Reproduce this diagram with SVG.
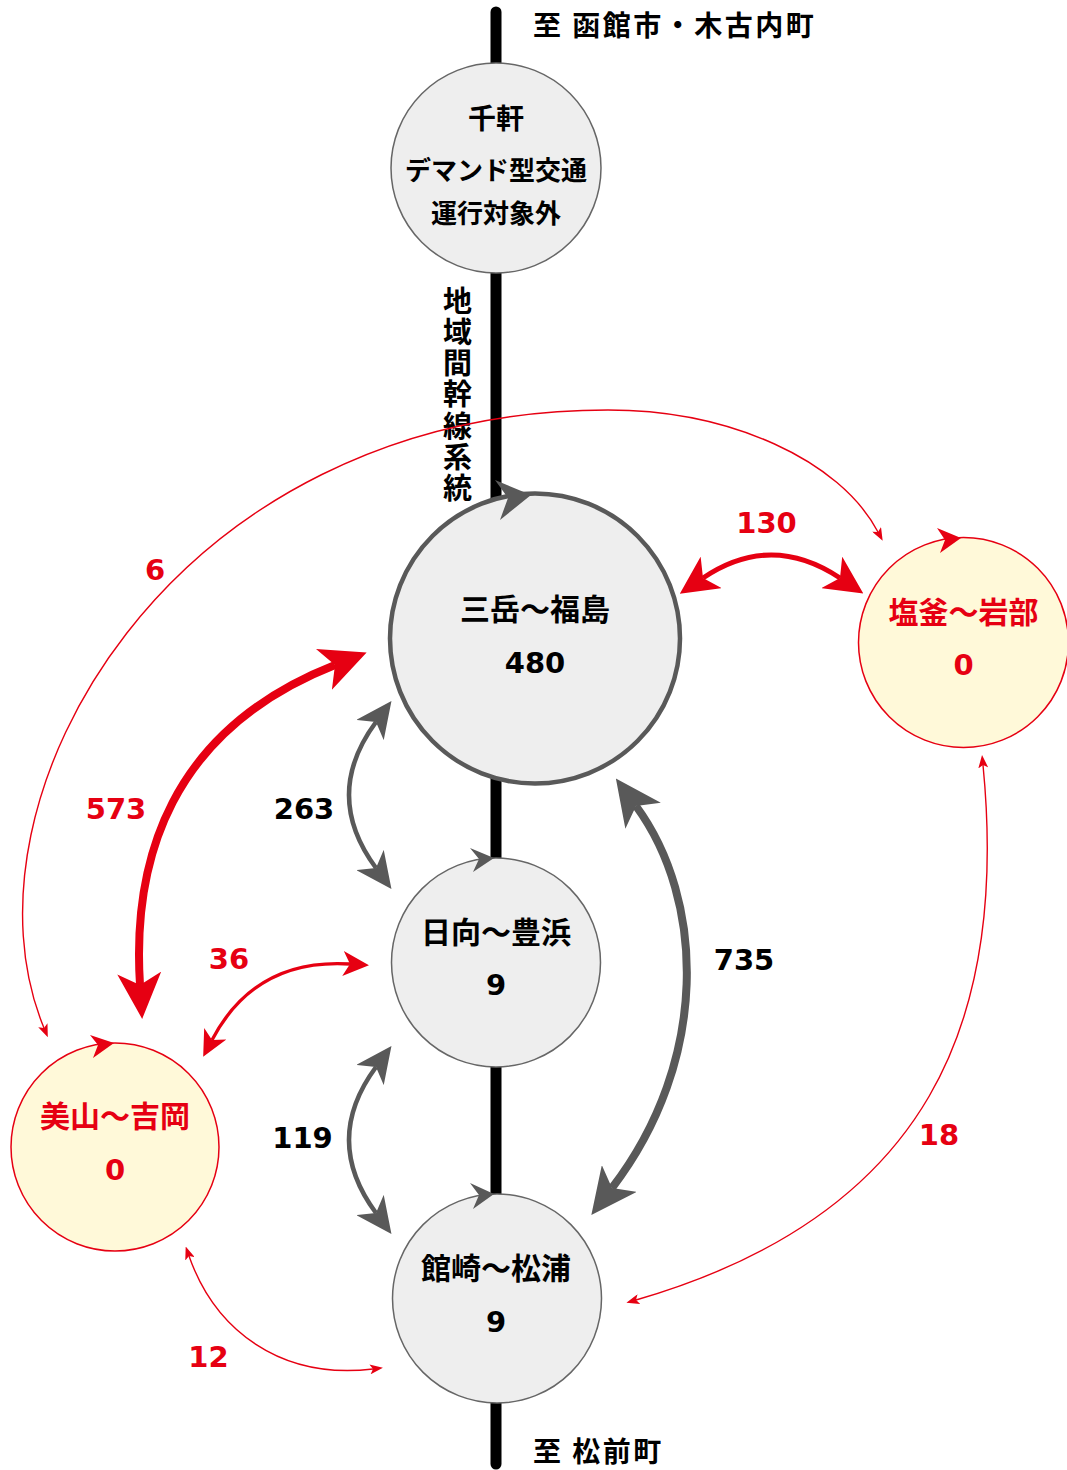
<svg xmlns="http://www.w3.org/2000/svg" width="1067" height="1470" viewBox="0 0 1067 1470">
<style>
.jp{font-family:"Noto Sans CJK JP","Noto Sans CJK SC",sans-serif;font-weight:bold;text-anchor:middle}
.num{font-family:"DejaVu Sans","Noto Sans CJK JP",sans-serif;font-weight:bold;text-anchor:middle;font-size:29px}
.blk{fill:#000}
.red{fill:#e60012}
.gnode{fill:#eeeeee;stroke:#666666;stroke-width:1.5}
.ynode{fill:#fff9d9;stroke:#e60012;stroke-width:1.5}
.rc{fill:none;stroke:#e60012}
.gc{fill:none;stroke:#595959}
.ga{fill:#595959}
.ra{fill:#e60012}
</style>
<defs>
<marker id="rXL" markerUnits="userSpaceOnUse" viewBox="0 0 46 44" markerWidth="46" markerHeight="44" refX="12" refY="22" orient="auto-start-reverse"><path d="M0,0 L46,22 L0,44 L12,22 z" fill="#e60012"/></marker>
<marker id="rL" markerUnits="userSpaceOnUse" viewBox="0 0 38 38" markerWidth="38" markerHeight="38" refX="10" refY="19" orient="auto-start-reverse"><path d="M0,0 L38,19 L0,38 L10,19 z" fill="#e60012"/></marker>
<marker id="rM" markerUnits="userSpaceOnUse" viewBox="0 0 26 25" markerWidth="26" markerHeight="25" refX="7" refY="12.5" orient="auto-start-reverse"><path d="M0,0 L26,12.5 L0,25 L7,12.5 z" fill="#e60012"/></marker>
<marker id="rS" markerUnits="userSpaceOnUse" viewBox="0 0 13 10" markerWidth="13" markerHeight="10" refX="3" refY="5" orient="auto-start-reverse"><path d="M0,0 L13,5 L0,10 L3,5 z" fill="#e60012"/></marker>
<marker id="gXL" markerUnits="userSpaceOnUse" viewBox="0 0 46 44" markerWidth="46" markerHeight="44" refX="12" refY="22" orient="auto-start-reverse"><path d="M0,0 L46,22 L0,44 L12,22 z" fill="#595959"/></marker>
<marker id="gM" markerUnits="userSpaceOnUse" viewBox="0 0 36 34" markerWidth="36" markerHeight="34" refX="10" refY="17" orient="auto-start-reverse"><path d="M0,0 L36,17 L0,34 L10,17 z" fill="#595959"/></marker>
</defs>

<rect width="1067" height="1470" fill="#ffffff"/>

<g id="trunk-line">
<line x1="496" y1="12" x2="496" y2="1464" stroke="#000" stroke-width="11" stroke-linecap="round"/>
<text class="jp blk" x="457.5" y="286" font-size="29" letter-spacing="2.3" style="writing-mode:vertical-rl;text-anchor:start">地域間幹線系統</text>
</g>

<g id="label-north"><text class="jp blk" x="533" y="36" font-size="28" letter-spacing="2.5" style="text-anchor:start">至 函館市・木古内町</text></g>
<g id="label-south"><text class="jp blk" x="533" y="1462" font-size="28" letter-spacing="2.5" style="text-anchor:start">至 松前町</text></g>

<g id="node-senken">
<circle class="gnode" cx="496" cy="168" r="105"/>
<text class="jp blk" x="496" y="129" font-size="28">千軒</text>
<text class="jp blk" x="496" y="180" font-size="26">デマンド型交通</text>
<text class="jp blk" x="496" y="223" font-size="26">運行対象外</text>
</g>

<g id="node-mitake">
<circle cx="535" cy="638.5" r="145" fill="#eeeeee" stroke="#595959" stroke-width="4.5"/>
<polygon class="ga" points="495,480 531,495 500,520 508,498"/>
<text class="jp blk" x="535" y="619.5" font-size="30">三岳～福島</text>
<text class="num blk" x="535" y="673">480</text>
</g>

<g id="node-shiogama">
<circle class="ynode" cx="963.5" cy="642.5" r="105"/>
<polygon class="ra" points="937,528 961,538 940,553 945,540"/>
<text class="jp red" x="963.5" y="622.5" font-size="30">塩釜～岩部</text>
<text class="num red" x="963.5" y="675">0</text>
</g>

<g id="node-hinata">
<circle class="gnode" cx="496" cy="962.5" r="104.5"/>
<polygon class="ga" points="470,848 494,858 473,872 479,859"/>
<text class="jp blk" x="496" y="942.5" font-size="30">日向～豊浜</text>
<text class="num blk" x="496" y="995">9</text>
</g>

<g id="node-tatesaki">
<circle class="gnode" cx="497" cy="1298.5" r="104.5"/>
<polygon class="ga" points="470,1183 494,1194 473,1209 479,1195"/>
<text class="jp blk" x="496" y="1278.5" font-size="30">館崎～松浦</text>
<text class="num blk" x="496" y="1332">9</text>
</g>

<g id="node-miyama">
<circle class="ynode" cx="115" cy="1147" r="104"/>
<polygon class="ra" points="90,1035 114,1043 93,1058 98,1045"/>
<text class="jp red" x="115" y="1126.5" font-size="30">美山～吉岡</text>
<text class="num red" x="115" y="1180">0</text>
</g>

<g id="connectors">
<path class="rc" stroke-width="1.4" d="M44,1028 C-50,800 170,410 608,410 C730,410 840,460 878,532" marker-start="url(#rS)" marker-end="url(#rS)"/>
<path class="rc" stroke-width="5" d="M703,578 Q771,532 840,578" marker-start="url(#rL)" marker-end="url(#rL)"/>
<path class="rc" stroke-width="8" d="M140,985 C132,860 170,730 335,665" marker-start="url(#rXL)" marker-end="url(#rXL)"/>
<path class="gc" stroke-width="4.5" d="M376,722 Q322,795 376,868" marker-start="url(#gM)" marker-end="url(#gM)"/>
<path class="gc" stroke-width="4.5" d="M376,1067 Q322,1140 376,1213" marker-start="url(#gM)" marker-end="url(#gM)"/>
<path class="gc" stroke-width="8" d="M636,806 C705,900 710,1060 612,1188" marker-start="url(#gXL)" marker-end="url(#gXL)"/>
<path class="rc" stroke-width="3.3" d="M212,1040 Q255,958 350,964" marker-start="url(#rM)" marker-end="url(#rM)"/>
<path class="rc" stroke-width="1.4" d="M189,1256 C215,1330 280,1380 373,1369" marker-start="url(#rS)" marker-end="url(#rS)"/>
<path class="rc" stroke-width="1.4" d="M983,765 C1008,1020 930,1215 636,1300" marker-start="url(#rS)" marker-end="url(#rS)"/>
</g>

<g id="connector-labels">
<text class="num red" x="766.5" y="533">130</text>
<text class="num red" x="155" y="580">6</text>
<text class="num red" x="116" y="819">573</text>
<text class="num blk" x="304" y="819">263</text>
<text class="num red" x="229" y="969">36</text>
<text class="num blk" x="744" y="970">735</text>
<text class="num blk" x="302.5" y="1148">119</text>
<text class="num red" x="939" y="1145">18</text>
<text class="num red" x="208.5" y="1367">12</text>
</g>
</svg>
